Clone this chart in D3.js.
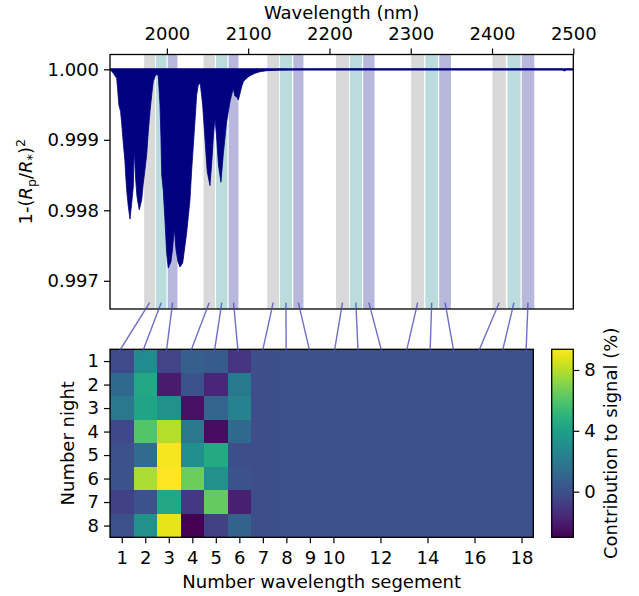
<!DOCTYPE html>
<html>
<head>
<meta charset="utf-8">
<script src="https://cdn.jsdelivr.net/npm/d3@7"></script>
<style>
  body { margin: 0; background: #fff; }
  svg text { font-family: "DejaVu Sans", sans-serif; fill: #000; }
  .axis path, .axis line { stroke: #000; stroke-width: 1.2; }
  .axis text { font-size: 18px; font-family: "DejaVu Sans", sans-serif; }
</style>
</head>
<body>
<div id="chart"></div>
<script>
// transit depth spectrum: [wavelength nm, depth in ppm below 1]
const spectrum = [
  [1930, 0], [1934.1, 57], [1938.2, 127], [1939.3, 269], [1940.9, 506], [1943, 600],
  [1944.2, 742], [1946.2, 1025], [1948.4, 1309], [1949.3, 1497], [1950.5, 1710],
  [1952.5, 1946], [1954.6, 2125], [1956.7, 1898], [1958.7, 1663], [1959.8, 1119],
  [1961.6, 1568], [1963.2, 1805], [1966, 1993], [1969, 1851], [1971, 1615], [1973, 1426],
  [1975.1, 1214], [1977.1, 884], [1979.2, 601], [1981.3, 364], [1983.2, 176], [1985.3, 105],
  [1987.4, 71], [1989.4, 91], [1990.3, 269], [1991.5, 506], [1992.7, 973], [1993.6, 1497],
  [1995.5, 1710], [1997.6, 2135], [1999.7, 2606], [2001.7, 2819], [2005, 2729], [2006.9, 2559],
  [2009.1, 2248], [2011.2, 2559], [2013.6, 2729], [2016.1, 2804], [2019.4, 2748], [2024.3, 2323],
  [2028.4, 1851], [2030.5, 1426], [2032.4, 1100], [2034.5, 742], [2036.6, 364], [2038.6, 222],
  [2041, 198], [2044, 506], [2046.8, 977], [2049.6, 1450], [2053, 1649], [2055.4, 1285],
  [2057.3, 931], [2059.1, 690], [2061, 931], [2063.4, 1356], [2066.5, 1601], [2069.3, 1214],
  [2073.5, 742], [2077.6, 459], [2081.6, 269], [2083.7, 378], [2086.2, 392], [2087.8, 435],
  [2089.2, 378], [2092, 246], [2094, 176], [2098.1, 127], [2102.2, 91], [2108.3, 57],
  [2114.5, 34], [2122.7, 20], [2139, 10], [2163.6, 3], [2200, 0], [2300, 0], [2400, 0],
  [2486, 0], [2489, 25], [2492, 0], [2500, 0]
];

// wavelength segments (nm), 6 groups of grey / teal / purple
const segStart = [1972, 1986.5, 2001, 2045, 2060.5, 2076, 2123.5, 2139, 2155.5,
                  2208, 2225, 2241.5, 2300.5, 2318, 2335, 2400.5, 2419, 2436.5];
const segEnd   = [1985.5, 1999.5, 2013, 2059, 2074.5, 2088, 2138, 2154, 2168,
                  2224, 2240, 2255.5, 2316.5, 2333.5, 2349.5, 2417, 2435, 2452];
const segColors = ['#d9d9d9', '#badcdc', '#b8b8dc'];

const wlTicks = [2000, 2100, 2200, 2300, 2400, 2500];
const depthTicks = [0.997, 0.998, 0.999, 1.000];

// contribution to signal (%), rows = nights 1..8, columns = segments 1..18
const nights = [1, 2, 3, 4, 5, 6, 7, 8];
const segments = d3.range(1, 19);
const contrib = [
  [-0.2, 2.9, -0.5, 0.7, 0.5, -1.1, -0.1, 0, 0, 0, 0, 0, 0, 0, 0, 0, 0, 0],
  [ 1.2, 4.4, -2.1, 0.1, -1.7, 2.0, -0.1, 0, 0, 0, 0, 0, 0, 0, 0, 0, 0, 0],
  [ 1.9, 4.2, 3.2, -2.5, 0.95, 2.5, -0.1, 0, 0, 0, 0, 0, 0, 0, 0, 0, 0, 0],
  [-0.3, 6.0, 8.0, 1.9, -2.6, 1.2, -0.1, 0, 0, 0, 0, 0, 0, 0, 0, 0, 0, 0],
  [ 0.0, 1.3, 9.2, 3.1, 4.5, -0.1, -0.1, 0, 0, 0, 0, 0, 0, 0, 0, 0, 0, 0],
  [ 0.1, 7.8, 9.36, 6.6, 3.2, 0.1, -0.1, 0, 0, 0, 0, 0, 0, 0, 0, 0, 0, 0],
  [-0.6, 0.1, 4.4, -1.0, 6.4, -1.9, -0.1, 0, 0, 0, 0, 0, 0, 0, 0, 0, 0, 0],
  [ 0.0, 3.2, 8.9, -3.0, -0.6, 0.9, -0.1, 0, 0, 0, 0, 0, 0, 0, 0, 0, 0, 0]
];
const segTicks = [1, 2, 3, 4, 5, 6, 7, 8, 9, 10, 12, 14, 16, 18];
const cbarTicks = [0, 4, 8];

const W = 639, H = 596;
const topBox = {left: 110, right: 573.3, top: 54.5, bottom: 309};
const heatBox = {left: 110, right: 533.3, top: 349.3, bottom: 537.3};
const cbarBox = {left: 551.7, right: 573.3};

const svg = d3.select('#chart').append('svg')
    .attr('width', W)
    .attr('height', H);

// ---- top panel: spectrum
const xTop = d3.scaleLinear().domain([1930, 2500]).range([topBox.left, topBox.right]);
const yTop = d3.scaleLinear().domain([0.99660, 1.00021]).range([topBox.bottom, topBox.top]);

svg.append('clipPath').attr('id', 'clipTop')
    .append('rect')
    .attr('x', topBox.left).attr('y', topBox.top)
    .attr('width', topBox.right - topBox.left).attr('height', topBox.bottom - topBox.top);

const gTop = svg.append('g').attr('clip-path', 'url(#clipTop)');

gTop.selectAll('.band')
    .data(segments)
    .join('rect')
    .attr('class', 'band')
    .attr('x', d => xTop(segStart[d - 1]))
    .attr('width', d => xTop(segEnd[d - 1]) - xTop(segStart[d - 1]))
    .attr('y', topBox.top)
    .attr('height', topBox.bottom - topBox.top)
    .attr('fill', d => segColors[(d - 1) % 3]);

const area = d3.area()
    .x(d => xTop(d[0]))
    .y0(yTop(1))
    .y1(d => yTop(1 - d[1] * 1e-6));

gTop.append('path')
    .datum(spectrum)
    .attr('d', area)
    .attr('fill', '#000080')
    .attr('stroke', '#000080')
    .attr('stroke-width', 0.8);

gTop.append('line')
    .attr('x1', xTop(1930)).attr('x2', xTop(2500))
    .attr('y1', yTop(1)).attr('y2', yTop(1))
    .attr('stroke', '#000080')
    .attr('stroke-width', 2.2);

svg.append('rect')
    .attr('x', topBox.left).attr('y', topBox.top)
    .attr('width', topBox.right - topBox.left).attr('height', topBox.bottom - topBox.top)
    .attr('fill', 'none').attr('stroke', '#000').attr('stroke-width', 1.3);

svg.append('g')
    .attr('class', 'axis')
    .attr('transform', `translate(0, ${topBox.top})`)
    .call(d3.axisTop(xTop).tickValues(wlTicks).tickSize(6).tickPadding(9).tickFormat(d3.format('d')))
    .call(g => g.select('.domain').remove());

svg.append('g')
    .attr('class', 'axis')
    .attr('transform', `translate(${topBox.left}, 0)`)
    .call(d3.axisLeft(yTop).tickValues(depthTicks).tickSize(6).tickPadding(5).tickFormat(d3.format('.3f')))
    .call(g => g.select('.domain').remove());

svg.append('text')
    .attr('x', (topBox.left + topBox.right) / 2)
    .attr('y', 18.5)
    .attr('text-anchor', 'middle')
    .style('font-size', '18px')
    .text('Wavelength (nm)');

const yl = svg.append('text')
    .attr('transform', `translate(32, ${(topBox.top + topBox.bottom) / 2}) rotate(-90)`)
    .attr('text-anchor', 'middle')
    .style('font-size', '18px');
yl.append('tspan').text('1-(');
yl.append('tspan').style('font-style', 'italic').text('R');
yl.append('tspan').attr('dy', 4).style('font-size', '12.6px').text('p');
yl.append('tspan').attr('dy', -4).text('/');
yl.append('tspan').style('font-style', 'italic').text('R');
yl.append('tspan').attr('dy', 4).style('font-size', '12.6px').text('*');
yl.append('tspan').attr('dy', -4).text(')');
yl.append('tspan').attr('dy', -7).style('font-size', '12.6px').text('2');

// ---- bottom panel: heatmap
const xH = d3.scaleLinear().domain([0.5, 18.5]).range([heatBox.left, heatBox.right]);
const yH = d3.scaleLinear().domain([0.5, 8.5]).range([heatBox.top, heatBox.bottom]);
const cExtent = d3.extent(contrib.flat());
const color = d3.scaleSequential(d3.interpolateViridis).domain(cExtent);

const cells = [];
nights.forEach((n, i) => segments.forEach((s, j) => cells.push({night: n, seg: s, v: contrib[i][j]})));

svg.append('g')
    .attr('shape-rendering', 'crispEdges')
    .selectAll('rect')
    .data(cells)
    .join('rect')
    .attr('x', d => xH(d.seg - 0.5))
    .attr('y', d => yH(d.night - 0.5))
    .attr('width', xH(1.5) - xH(0.5) + 1)
    .attr('height', yH(1.5) - yH(0.5) + 1)
    .attr('fill', d => color(d.v));

svg.append('rect')
    .attr('x', heatBox.left).attr('y', heatBox.top)
    .attr('width', heatBox.right - heatBox.left).attr('height', heatBox.bottom - heatBox.top)
    .attr('fill', 'none').attr('stroke', '#000').attr('stroke-width', 1.3);

svg.append('g')
    .attr('class', 'axis')
    .attr('transform', `translate(0, ${heatBox.bottom})`)
    .call(d3.axisBottom(xH).tickValues(segTicks).tickSize(6).tickPadding(8).tickFormat(d3.format('d')))
    .call(g => g.select('.domain').remove());

svg.append('g')
    .attr('class', 'axis')
    .attr('transform', `translate(${heatBox.left}, 0)`)
    .call(d3.axisLeft(yH).tickValues(nights).tickSize(6).tickPadding(5).tickFormat(d3.format('d')))
    .call(g => g.select('.domain').remove());

svg.append('text')
    .attr('x', (heatBox.left + heatBox.right) / 2)
    .attr('y', 588)
    .attr('text-anchor', 'middle')
    .style('font-size', '18px')
    .text('Number wavelength segement');

svg.append('text')
    .attr('transform', `translate(74, ${(heatBox.top + heatBox.bottom) / 2}) rotate(-90)`)
    .attr('text-anchor', 'middle')
    .style('font-size', '18px')
    .text('Number night');

// ---- colorbar
const yC = d3.scaleLinear().domain(cExtent).range([heatBox.bottom, heatBox.top]);
const grad = svg.append('defs').append('linearGradient')
    .attr('id', 'cbarGrad')
    .attr('x1', 0).attr('y1', 1).attr('x2', 0).attr('y2', 0);
d3.range(0, 1.0001, 0.05).forEach(t => {
    grad.append('stop').attr('offset', t).attr('stop-color', d3.interpolateViridis(t));
});
svg.append('rect')
    .attr('x', cbarBox.left).attr('y', heatBox.top)
    .attr('width', cbarBox.right - cbarBox.left).attr('height', heatBox.bottom - heatBox.top)
    .attr('fill', 'url(#cbarGrad)')
    .attr('stroke', '#000').attr('stroke-width', 1.3);

svg.append('g')
    .attr('class', 'axis')
    .attr('transform', `translate(${cbarBox.right}, 0)`)
    .call(d3.axisRight(yC).tickValues(cbarTicks).tickSize(6).tickPadding(5).tickFormat(d3.format('d')))
    .call(g => g.select('.domain').remove());

svg.append('text')
    .attr('transform', `translate(617, ${(heatBox.top + heatBox.bottom) / 2}) rotate(-90)`)
    .attr('text-anchor', 'middle')
    .style('font-size', '18px')
    .text('Contribution to signal (%)');

// ---- connectors from each wavelength band to its heatmap column
svg.append('g')
    .selectAll('line')
    .data(segments)
    .join('line')
    .attr('x1', d => xTop((segStart[d - 1] + segEnd[d - 1]) / 2))
    .attr('y1', yTop(0.99669))
    .attr('x2', d => xH(0.85 + (d - 1) * 1.02))
    .attr('y2', yH(0.65))
    .attr('stroke', '#4b4bb8')
    .attr('stroke-opacity', 0.8)
    .attr('stroke-width', 1.4);
</script>
</body>
</html>
